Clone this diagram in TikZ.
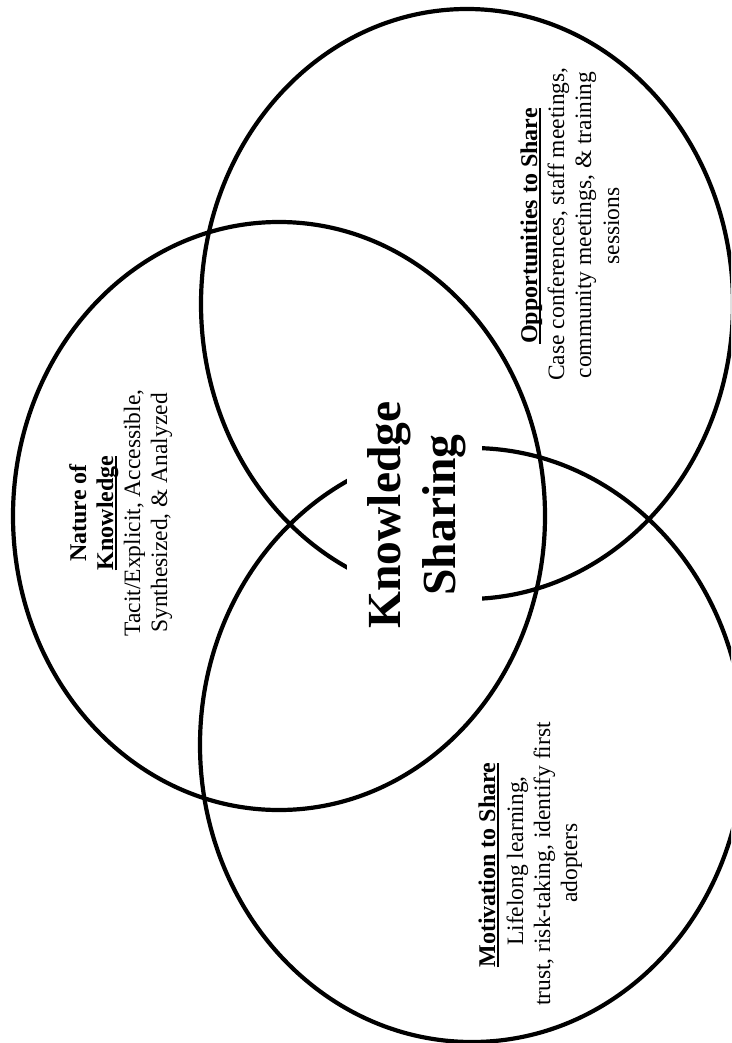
\documentclass[tikz,border=0pt]{standalone}
\usepackage{fontspec}
\setmainfont{Liberation Serif}
\newcommand\myul[1]{\setbox0\hbox{#1}\rlap{\rule[-3.8pt]{\wd0}{1.6pt}}\box0}
\tikzset{
  ring/.style={line width=4.2pt, black},
  bodytext/.style={anchor=base, rotate=90, inner sep=0pt, font=\fontsize{23.5}{27}\selectfont},
  headtext/.style={anchor=base, rotate=90, inner sep=0pt, font=\fontsize{24}{27}\selectfont\bfseries},
  titletext/.style={anchor=base, rotate=90, inner sep=0pt, font=\fontsize{47.5}{55}\selectfont\bfseries},
}
\begin{document}
\begin{tikzpicture}[x=1pt,y=-1pt]
\useasboundingbox (0,0) rectangle (731,1043);
\clip (0,0) rectangle (731,1043);
\fill[white] (0,0) rectangle (731,1043);
% the three circles
\draw[ring] (279,516) ellipse [x radius=266pt, y radius=294pt];
\draw[ring] (467,304) ellipse [x radius=266pt, y radius=295pt];
\draw[ring] (472,745) ellipse [x radius=272pt, y radius=297pt];
% centre title with white backing
\fill[white] (347,398) rectangle (482,632);
\node[titletext] (t1) at (400,515) {Knowledge};
\node[titletext] (t2) at (455,515) {Sharing};
% Nature of Knowledge
\node[headtext] (n1) at (86,513) {Nature of};
\node[headtext] (n2) at (113,513) {\myul{Knowledge}};
\node[bodytext] (n3) at (140,513) {Tacit/Explicit, Accessible,};
\node[bodytext] (n4) at (167,513) {Synthesized, \& Analyzed};
% Opportunities to Share
\node[headtext] (o1) at (537,226) {\myul{Opportunities to Share}};
\node[bodytext] (o2) at (564,224) {Case conferences, staff meetings,};
\node[bodytext] (o3) at (591,225) {community meetings, \& training};
\node[bodytext] (o4) at (619,226) {sessions};
% Motivation to Share
\node[headtext] (m1) at (495,865) {\myul{Motivation to Share}};
\node[bodytext] (m2) at (523,861) {Lifelong learning,};
\node[bodytext] (m3) at (550,864) {trust, risk-taking, identify first};
\node[bodytext] (m4) at (577,863) {adopters};
\end{tikzpicture}
\end{document}
